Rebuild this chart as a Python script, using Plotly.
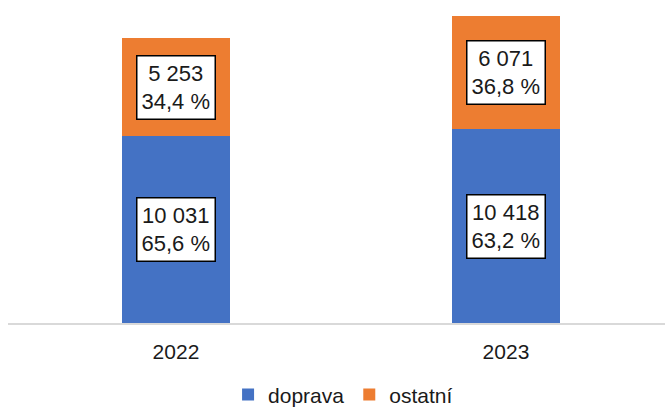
import plotly.graph_objects as go

years = ["2022", "2023"]
doprava = [10031, 10418]
ostatni = [5253, 6071]
doprava_pct = ["65,6 %", "63,2 %"]
ostatni_pct = ["34,4 %", "36,8 %"]

BLUE = "#4472C4"
ORANGE = "#ED7D31"
FONT = "Liberation Sans, Arial, sans-serif"


def fmt(v):
    return f"{v:,}".replace(",", " ")


fig = go.Figure()
fig.add_bar(x=years, y=doprava, name="doprava", marker_color=BLUE, width=0.327,
            marker_line_width=0, hoverinfo="skip")
fig.add_bar(x=years, y=ostatni, name="ostatní", marker_color=ORANGE, width=0.327,
            marker_line_width=0, hoverinfo="skip")

for i, yr in enumerate(years):
    fig.add_annotation(x=i, y=doprava[i] / 2,
                       text=f"{fmt(doprava[i])}<br>{doprava_pct[i]}",
                       showarrow=False, bgcolor="white", bordercolor="black",
                       borderwidth=1.5, borderpad=4, align="center",
                       font=dict(family=FONT, size=22, color="#1a1a1a"))
    fig.add_annotation(x=i, y=doprava[i] + ostatni[i] / 2,
                       text=f"{fmt(ostatni[i])}<br>{ostatni_pct[i]}",
                       showarrow=False, bgcolor="white", bordercolor="black",
                       borderwidth=1.5, borderpad=4, align="center",
                       font=dict(family=FONT, size=22, color="#1a1a1a"))

fig.update_layout(
    barmode="stack",
    width=665, height=408,
    margin=dict(l=8, r=0, t=10, b=85, autoexpand=False),
    paper_bgcolor="white", plot_bgcolor="white",
    font=dict(family=FONT, size=21, color="#1a1a1a"),
    showlegend=True,
    hovermode=False,
    legend=dict(orientation="h", x=0.51, xanchor="center", yref="container",
                y=0.032, yanchor="middle", traceorder="normal",
                font=dict(size=21), itemwidth=30, tracegroupgap=0),
    xaxis=dict(type="category", range=[-0.509, 1.482], showline=True,
               linecolor="#D9D9D9", linewidth=1.5, ticks="", showgrid=False,
               tickfont=dict(size=21), ticklabelstandoff=9, fixedrange=True),
    yaxis=dict(range=[0, 16810], visible=False, showgrid=False, fixedrange=True),
    bargap=0,
)

fig.write_html(
    "out.html",
    config={"displayModeBar": False, "staticPlot": True},
    post_script="document.body.style.margin='0';document.body.style.overflow='hidden';",
)
